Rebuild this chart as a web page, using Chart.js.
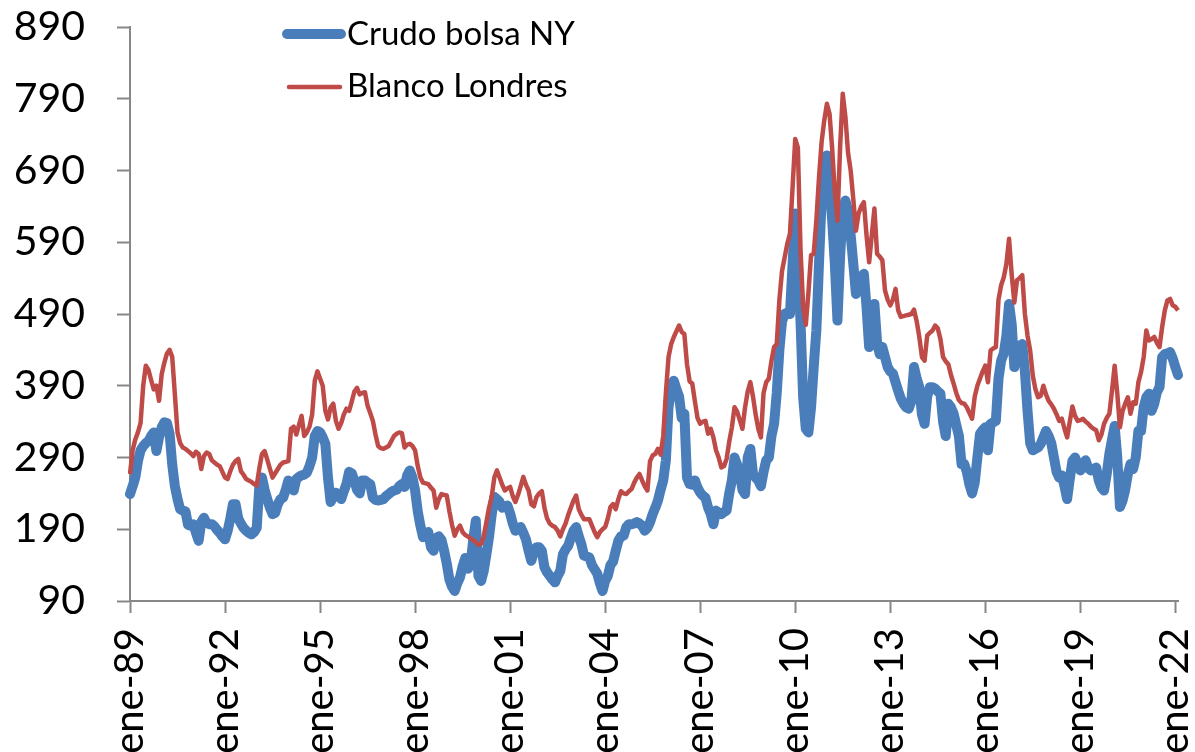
<!DOCTYPE html>
<html>
<head>
<meta charset="utf-8">
<script src="https://cdn.jsdelivr.net/npm/chart.js@4"></script>
<style>
    body { margin: 0; background: #fff; }
    #wrap { width: 1195px; height: 752px; }
</style>
</head>
<body>
<div id="wrap"><canvas id="azucar-chart" width="1195" height="752"></canvas></div>
<script>
// precios mensuales, ene-89 a feb-22
const crudoNY = [
    239, 250, 262, 285, 300, 306, 310, 313, 320, 325, 299, 318, // 1989
    332, 339, 338, 323, 280, 250, 232, 218, 216, 215, 196, 195, // 1990
    197, 185, 174, 200, 206, 199, 197, 197, 194, 189, 185, 180, // 1991
    176, 188, 205, 225, 225, 205, 198, 192, 188, 185, 183, 186, // 1992
    192, 250, 262, 245, 232, 220, 211, 213, 225, 232, 234, 245, // 1993
    258, 250, 244, 260, 263, 265, 266, 269, 278, 290, 320, 327, // 1994
    325, 318, 309, 262, 228, 235, 241, 237, 232, 243, 253, 270, // 1995
    268, 258, 245, 240, 258, 258, 255, 253, 234, 231, 230, 231, // 1996
    232, 236, 239, 242, 244, 245, 250, 253, 249, 265, 272, 262, // 1997
    244, 215, 195, 179, 182, 186, 165, 160, 178, 180, 175, 160, // 1998
    142, 120, 110, 104, 115, 123, 138, 150, 135, 140, 175, 202, // 1999
    125, 118, 132, 155, 179, 210, 235, 232, 228, 220, 222, 223, // 2000
    212, 198, 188, 190, 193, 185, 176, 160, 146, 158, 165, 165, // 2001
    160, 137, 130, 125, 120, 116, 125, 132, 155, 162, 167, 178, // 2002
    188, 193, 180, 169, 153, 152, 151, 140, 134, 128, 115, 104, // 2003
    118, 125, 140, 145, 160, 174, 180, 181, 193, 197, 197, 198, // 2004
    200, 198, 195, 188, 192, 200, 211, 220, 230, 245, 258, 286, // 2005
    360, 385, 397, 385, 375, 345, 351, 262, 253, 252, 258, 248, // 2006
    241, 237, 234, 220, 211, 197, 216, 213, 211, 214, 216, 240, // 2007
    258, 290, 280, 268, 245, 239, 290, 302, 267, 262, 258, 250, // 2008
    270, 286, 290, 320, 337, 380, 440, 480, 490, 492, 490, 560, // 2009
    630, 560, 480, 374, 330, 325, 360, 416, 467, 560, 650, 690, // 2010
    711, 670, 620, 560, 481, 570, 635, 648, 634, 600, 560, 518, // 2011
    535, 541, 546, 500, 444, 470, 504, 450, 434, 444, 430, 416, // 2012
    410, 407, 395, 383, 372, 365, 360, 358, 369, 416, 400, 388, // 2013
    350, 337, 375, 388, 388, 386, 382, 379, 340, 320, 365, 360, // 2014
    351, 335, 320, 281, 281, 270, 252, 240, 255, 290, 323, 328, // 2015
    332, 300, 337, 339, 341, 400, 425, 435, 460, 504, 476, 416, // 2016
    444, 446, 448, 410, 355, 310, 300, 302, 304, 309, 318, 327, // 2017
    320, 310, 290, 270, 262, 265, 250, 232, 260, 285, 290, 280, // 2018
    272, 282, 286, 275, 272, 274, 276, 258, 248, 244, 267, 295, // 2019
    315, 334, 290, 221, 230, 245, 267, 281, 274, 290, 327, 327, // 2020
    360, 374, 379, 355, 365, 381, 388, 430, 434, 435, 437, 428, // 2021
    416, 405                                                    // 2022
];

const blancoLondres = [
    267, 300, 315, 325, 338, 390, 418, 412, 398, 385, 390, 369, // 1989
    406, 422, 435, 440, 430, 378, 325, 310, 304, 302, 299, 296, // 1990
    292, 298, 295, 274, 292, 297, 295, 286, 283, 280, 278, 270, // 1991
    262, 260, 271, 280, 285, 288, 271, 266, 260, 258, 256, 253, // 1992
    251, 275, 295, 299, 287, 274, 262, 268, 274, 280, 283, 284, // 1993
    285, 330, 333, 322, 335, 348, 320, 325, 333, 350, 397, 410, // 1994
    400, 390, 355, 343, 360, 365, 341, 330, 338, 350, 358, 355, // 1995
    368, 382, 387, 378, 380, 381, 362, 352, 341, 322, 306, 303, // 1996
    302, 304, 306, 313, 320, 323, 325, 324, 304, 308, 309, 306, // 1997
    300, 278, 262, 255, 254, 253, 248, 244, 220, 232, 239, 238, // 1998
    237, 215, 196, 181, 190, 195, 186, 182, 180, 177, 175, 172, // 1999
    168, 170, 180, 200, 220, 235, 262, 272, 262, 252, 244, 247, // 2000
    249, 236, 228, 238, 250, 263, 252, 244, 225, 222, 235, 240, // 2001
    243, 220, 205, 198, 195, 193, 188, 180, 190, 198, 210, 220, // 2002
    230, 237, 218, 210, 204, 204, 204, 195, 186, 179, 186, 190, // 2003
    193, 205, 221, 225, 218, 232, 243, 240, 239, 243, 246, 255, // 2004
    262, 267, 258, 250, 244, 285, 293, 295, 302, 294, 320, 380, // 2005
    430, 448, 458, 466, 474, 465, 462, 420, 396, 393, 368, 345, // 2006
    337, 340, 341, 323, 330, 318, 300, 290, 276, 278, 288, 312, // 2007
    332, 360, 354, 342, 330, 360, 382, 395, 375, 350, 330, 318, // 2008
    380, 395, 400, 425, 444, 448, 510, 550, 569, 588, 602, 667, // 2009
    734, 722, 580, 500, 475, 520, 572, 574, 620, 680, 730, 760, // 2010
    783, 769, 720, 660, 620, 723, 797, 765, 715, 690, 650, 606, // 2011
    630, 640, 646, 600, 562, 600, 637, 574, 570, 565, 523, 510, // 2012
    502, 510, 525, 495, 486, 487, 488, 489, 490, 496, 480, 458, // 2013
    430, 425, 460, 464, 467, 474, 470, 455, 430, 424, 420, 405, // 2014
    393, 380, 370, 366, 365, 360, 352, 344, 375, 390, 400, 410, // 2015
    418, 395, 439, 442, 444, 510, 530, 541, 560, 595, 545, 506, // 2016
    537, 540, 544, 490, 460, 439, 404, 385, 374, 376, 390, 378, // 2017
    369, 364, 358, 350, 341, 344, 330, 318, 340, 361, 348, 341, // 2018
    342, 344, 340, 337, 333, 330, 328, 314, 322, 337, 345, 351, // 2019
    383, 418, 379, 332, 355, 365, 374, 351, 367, 365, 395, 409, // 2020
    430, 467, 453, 455, 458, 450, 444, 472, 495, 509, 511, 502, // 2021
    500, 495                                                    // 2022
];

const meses = ['ene', 'feb', 'mar', 'abr', 'may', 'jun', 'jul', 'ago', 'sep', 'oct', 'nov', 'dic'];
const xTickLabels = ['ene-89', 'ene-92', 'ene-95', 'ene-98', 'ene-01', 'ene-04',
                     'ene-07', 'ene-10', 'ene-13', 'ene-16', 'ene-19', 'ene-22'];
const yTickValues = [90, 190, 290, 390, 490, 590, 690, 790, 890];

const AZUL = '#4A7EBB';
const ROJO = '#BE4B48';
const GRIS = '#878787';
const FUENTE = 'Lato';

function initializeAzucarChart() {
    const ctx = document.getElementById('azucar-chart').getContext('2d');

    // one label per month, e.g. 'ene-89'
    const labels = crudoNY.map((_, i) => {
        const yy = (89 + Math.floor(i / 12)) % 100;
        return meses[i % 12] + '-' + String(yy).padStart(2, '0');
    });

    const legendBox = {
        id: 'legendBox',
        afterDraw(chart) {
            const {ctx, data} = chart;
            ctx.save();
            const rows = [
                {ds: data.datasets[0], y: 34, base: 45, x0: 287, x1: 341},
                {ds: data.datasets[1], y: 87, base: 97, x0: 289, x1: 340}
            ];
            rows.forEach(r => {
                ctx.beginPath();
                ctx.strokeStyle = r.ds.borderColor;
                ctx.lineWidth = r.ds.borderWidth;
                ctx.lineCap = 'round';
                ctx.moveTo(r.x0, r.y);
                ctx.lineTo(r.x1, r.y);
                ctx.stroke();
                ctx.fillStyle = '#000';
                ctx.font = '33px ' + FUENTE;
                ctx.textBaseline = 'alphabetic';
                ctx.textAlign = 'left';
                ctx.fillText(r.ds.label, 347, r.base);
            });
            ctx.restore();
        }
    };

    new Chart(ctx, {
        type: 'line',
        data: {
            labels: labels,
            datasets: [{
                label: 'Crudo bolsa NY',
                data: crudoNY,
                borderColor: AZUL,
                borderWidth: 10,
                borderJoinStyle: 'round',
                borderCapStyle: 'round',
                pointRadius: 0,
                tension: 0,
                order: 1
            }, {
                label: 'Blanco Londres',
                data: blancoLondres,
                borderColor: ROJO,
                borderWidth: 4.5,
                borderJoinStyle: 'round',
                pointRadius: 0,
                tension: 0,
                order: 0
            }]
        },
        options: {
            responsive: false,
            animation: false,
            layout: {
                padding: {top: 27, right: 17, bottom: 0, left: 0}
            },
            scales: {
                x: {
                    type: 'category',
                    offset: false,
                    afterBuildTicks(scale) {
                        scale.ticks = scale.ticks.filter(t => t.value % 36 === 0);
                    },
                    afterFit(scale) {
                        scale.height = 151;
                        scale.paddingLeft = 0;
                        scale.paddingRight = 0;
                    },
                    grid: {
                        drawOnChartArea: false,
                        drawTicks: true,
                        tickLength: 12,
                        tickWidth: 2,
                        tickColor: GRIS,
                        offset: false
                    },
                    border: {
                        display: true,
                        color: GRIS,
                        width: 2
                    },
                    ticks: {
                        autoSkip: false,
                        minRotation: 90,
                        maxRotation: 90,
                        padding: 15,
                        color: '#000',
                        font: {family: FUENTE, size: 40},
                        callback: (value) => xTickLabels[Math.round(value / 36)]
                    }
                },
                y: {
                    min: 90,
                    max: 890,
                    afterBuildTicks(scale) {
                        scale.ticks = yTickValues.map(v => ({value: v}));
                    },
                    afterFit(scale) {
                        scale.width = 130;
                        scale.paddingTop = 0;
                        scale.paddingBottom = 0;
                    },
                    grid: {
                        drawOnChartArea: false,
                        drawTicks: true,
                        tickLength: 13,
                        tickWidth: 2,
                        tickColor: GRIS
                    },
                    border: {
                        display: true,
                        color: GRIS,
                        width: 2
                    },
                    ticks: {
                        padding: 32,
                        color: '#000',
                        font: {family: FUENTE, size: 41}
                    }
                }
            },
            plugins: {
                legend: {display: false},
                tooltip: {enabled: false}
            }
        },
        plugins: [legendBox]
    });
}

initializeAzucarChart();
</script>
</body>
</html>
